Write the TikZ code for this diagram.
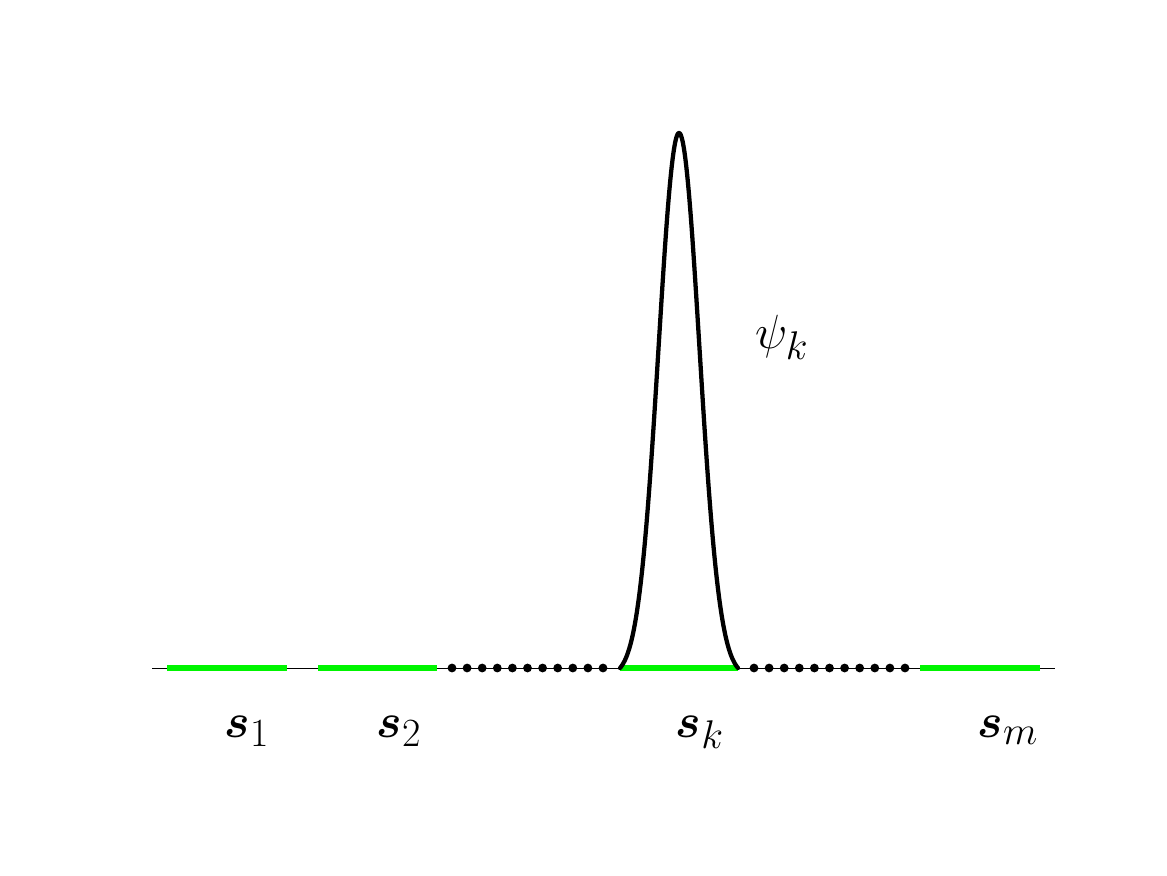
\documentclass[tikz,border=0pt]{standalone}
\usepackage{amsmath,amssymb,bm}
\begin{document}
\begin{tikzpicture}[x=0.75pt,y=-0.75pt,
  axisline/.style={line width=0.75pt,black},
  segline/.style={line width=4.8pt,color={rgb,255:red,0;green,245;blue,0}},
  bumpline/.style={line width=3.2pt,black,line join=round,line cap=round},
  dotmark/.style={circle,fill=black,inner sep=0pt,minimum size=6.6pt},
  lbl/.style={anchor=base,inner sep=0pt,scale=1.447,font=\fontsize{24.88}{30}\selectfont}]
\useasboundingbox (0,0) rectangle (1167,875);
% axis
\coordinate (axL) at (152,668);
\coordinate (axR) at (1055,668);
\draw[axisline] (axL) -- (axR);
% dots
\foreach \i in {0,...,10} {
  \node[dotmark] (dl\i) at ({452+15.1*\i},668) {};
  \node[dotmark] (dr\i) at ({754+15.1*\i},668) {};
}
% segments
\coordinate (a1) at (167,668); \coordinate (b1) at (287,668);
\coordinate (a2) at (318,668); \coordinate (b2) at (437,668);
\coordinate (ak) at (620,668); \coordinate (bk) at (738,668);
\coordinate (am) at (920,668); \coordinate (bm) at (1040,668);
\draw[segline] (a1) -- (b1);
\draw[segline] (a2) -- (b2);
\draw[segline] (ak) -- (bk);
\draw[segline] (am) -- (bm);
% bump
\draw[bumpline] plot[domain=620:738,samples=150,smooth]
  (\x,{668-535*(exp(-((\x-679)*(\x-679))/832)-0.01524)/(1-0.01524)});
% labels
\node[lbl] (l1) at (247,737) {$\bm{s}_1$};
\node[lbl] (l2) at (399,737) {$\bm{s}_2$};
\node[lbl] (lk) at (700,737) {$\bm{s}_k$};
\node[lbl] (lm) at (1008,737) {$\bm{s}_m$};
\node[lbl] (lpsi) at (782,348) {$\psi_k$};
\end{tikzpicture}
\end{document}
